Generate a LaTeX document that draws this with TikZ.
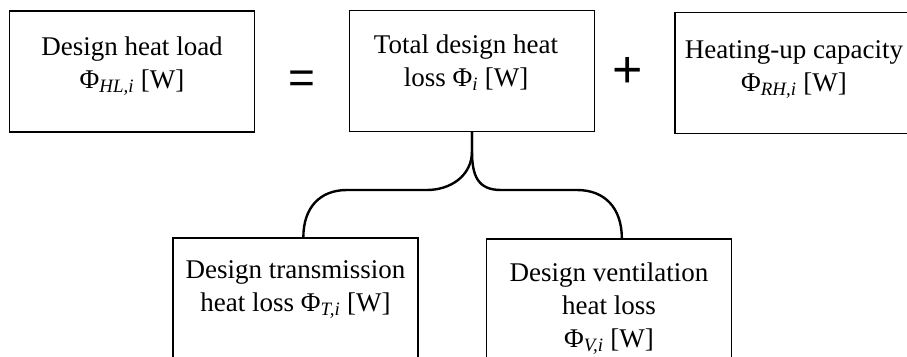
\documentclass[tikz,border=0pt]{standalone}
\usepackage{fontspec}
\setmainfont{Liberation Serif}
\newfontfamily\symfont{Liberation Sans}
\usetikzlibrary{calc}
\begin{document}
\begin{tikzpicture}[x=1pt,y=-1pt,
  box/.style={draw, line width=1.3pt, minimum width=245pt, minimum height=121pt, inner sep=0pt, anchor=center},
  txt/.style={align=center, anchor=north, inner sep=0pt, font=\fontsize{27}{33}\selectfont},
  opsym/.style={inner sep=0pt, font=\symfont\fontsize{46}{46}\selectfont},
  brace/.style={line width=2.4pt}]
\useasboundingbox (0,0) rectangle (907,356);
\clip (0,0) rectangle (907,356);
% boxes
\node[box] (b1) at (132.25,71.5) {};
\node[box] (b2) at (472,71) {};
\node[box] (b3) at (797.5,72.75) {};
\node[box] (b4) at (295.5,298.5) {};
\node[box] (b5) at (609,299.5) {};
% texts
\node[txt] (t1) at (132,37) {Design heat load\\Φ\textsubscript{\itshape HL,i} [W]};
\node[txt] (t2) at (466,35) {Total design heat\\loss Φ\textsubscript{\itshape i} [W]};
\node[txt] (t3) at (794,40) {Heating-up capacity\\Φ\textsubscript{\itshape RH,i} [W]};
\node[txt] (t4) at (295.5,260) {Design transmission\\heat loss Φ\textsubscript{\itshape T,i} [W]};
\node[txt] (t5) at (609,263) {Design ventilation\\heat loss\\Φ\textsubscript{\itshape V,i} [W]};
% operators
\node[opsym] (eq) at (302,82) {=};
\node[opsym, font=\symfont\fontsize{52}{52}\selectfont] (pl) at (628,72) {+};
% brace
\coordinate (l4) at ($(b4.north west)+(131,0)$);
\coordinate (r5) at ($(b5.north west)+(136,0)$);
\draw[brace] (b2.south) -- ++(0,19) .. controls ++(0,25) and (450,190) .. (427,190) -- (347,190) .. controls (320,190) and ($(l4)+(0,-30)$) .. (l4);
\draw[brace] (b2.south) -- ++(0,19) .. controls ++(0,25) and (478,190) .. (501,190) -- (577,190) .. controls (605,190) and ($(r5)+(0,-30)$) .. (r5);
\end{tikzpicture}
\end{document}
